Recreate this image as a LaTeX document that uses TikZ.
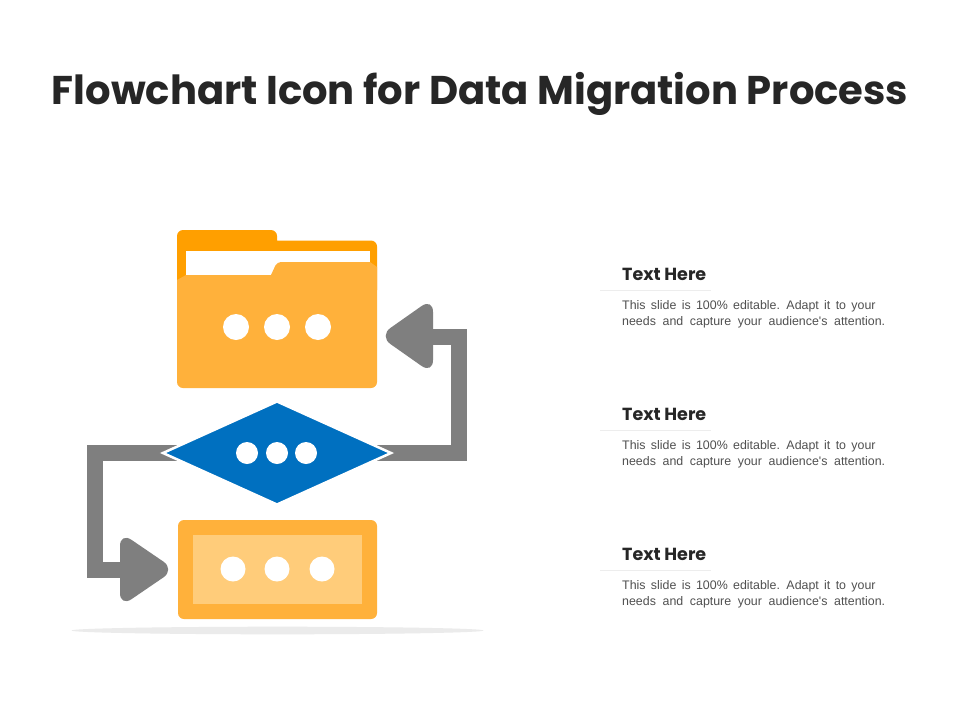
\documentclass[tikz,border=0pt]{standalone}
\usepackage{fontspec}
\setmainfont{Liberation Sans}
\newfontfamily\titlefont{Poppins}
\newfontfamily\bodyfont[WordSpace=1.55]{Liberation Sans}
\usetikzlibrary{shapes.geometric,backgrounds}
\definecolor{ambr}{HTML}{FFB13B}
\definecolor{ambrd}{HTML}{FF9F00}
\definecolor{ambrl}{HTML}{FFCC7A}
\definecolor{flowblue}{HTML}{0070C0}
\definecolor{flowgray}{HTML}{7F7F7F}
\definecolor{ink}{HTML}{262626}
\definecolor{bodyink}{HTML}{505050}
\tikzset{
  x=1pt,y=-1pt,
  dot/.style={circle,fill=white,inner sep=0pt,outer sep=0pt,minimum size=#1},
  link/.style={draw=flowgray,line width=16pt,miter limit=10},
  arrowhd/.style={fill=flowgray,rounded corners=14pt},
  headtxt/.style={anchor=base west,inner sep=0pt,font=\titlefont\bfseries\fontsize{17.5}{20}\selectfont,text=ink},
  bodytxt/.style={anchor=north west,inner sep=0pt,align=left,font=\bodyfont\fontsize{12.4}{16}\selectfont,text=bodyink},
  ruleline/.style={draw=black!7,line width=0.8pt}
}
\begin{document}
\begin{tikzpicture}
\useasboundingbox (0,0) rectangle (960,720);
\begin{scope}[on background layer]
\fill[white] (0,0) rectangle (960,720);
\end{scope}
\node[anchor=base,inner sep=0pt,font=\titlefont\bfseries\fontsize{40.1}{44}\selectfont,text=ink] (title) at (480,104) {Flowchart Icon for Data Migration Process};
% shadow
\fill[black!8] (277.5,630.5) ellipse [x radius=206, y radius=3.8];
% folder
\node[minimum width=200pt,minimum height=158pt,inner sep=0pt,outer sep=0pt] (folder) at (277,309) {};
\fill[ambrd] (177,290) [rounded corners=6pt] -- (177,230) -- (277,230) [sharp corners] -- (277,240.5) [rounded corners=6pt] -- (377,240.5) [sharp corners] -- (377,290) -- cycle;
\fill[white] (186,251) rectangle (370,280);
\fill[ambr] (177,280) -- (186,275) -- (271,275) [rounded corners=4pt] -- (277,262) [sharp corners] -- (370,262) -- (377,267) [rounded corners=6pt] -- (377,388) -- (177,388) [sharp corners] -- cycle;
\node[dot=26pt] (fa) at (236,327) {};
\node[dot=26pt] (fb) at (277,327) {};
\node[dot=26pt] (fc) at (318,327) {};
% bottom rectangle
\node[fill=ambr,rounded corners=6pt,minimum width=199pt,minimum height=99pt,inner sep=0pt,outer sep=0pt] (box) at (277.5,569.5) {};
\node[fill=ambrl,minimum width=169pt,minimum height=69pt,inner sep=0pt,outer sep=0pt] (boxin) at (277.5,569.5) {};
\node[dot=25pt] (ba) at (233,569) {};
\node[dot=25pt] (bb) at (277,569) {};
\node[dot=25pt] (bc) at (322,569) {};
% decision
\node[diamond,aspect=2.2,fill=flowblue,draw=white,line width=2.5pt,minimum width=228pt,minimum height=103pt,inner sep=0pt,outer sep=0pt] (dec) at (277,453) {};
\node[dot=22pt] (da) at (247,453) {};
\node[dot=22pt] (db) at (277,453) {};
\node[dot=22pt] (dc) at (306,453) {};
% connectors
\coordinate (rturn) at (459,453);
\coordinate (rhead) at (425,337);
\coordinate (lturn) at (95,453);
\coordinate (lhead) at (128,570);
\begin{scope}[on background layer]
\draw[link] (dec.center) -- (rturn) |- (rhead);
\draw[link] (dec.center) -- (lturn) |- (lhead);
\end{scope}
\fill[arrowhd] (433,298) -- (433,374) -- (379,336) -- cycle;
\fill[arrowhd] (120,532) -- (120,607) -- (175,569.5) -- cycle;
% captions
\foreach \n/\y in {a/280,b/420,c/560}{
  \node[headtxt] (head\n) at (622,\y) {Text Here};
  \coordinate (rl\n) at (600,\y+10.5);
  \coordinate (rr\n) at (711,\y+10.5);
  \draw[ruleline] (rl\n) -- (rr\n);
  \node[bodytxt] (text\n) at (622,\y+20.5) {This slide is 100\% editable. Adapt it to your\\\makebox[263pt][s]{needs and capture your audience's attention.}};
}
\end{tikzpicture}
\end{document}
